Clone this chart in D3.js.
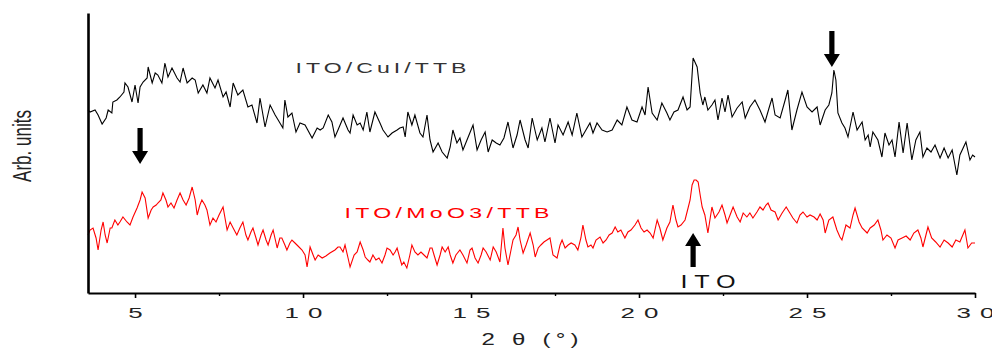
<!DOCTYPE html>
<html><head><meta charset="utf-8">
<script src="https://cdn.jsdelivr.net/npm/d3@7"></script>
<style>body{margin:0;background:#fff}svg{display:block}text{font-family:"Liberation Sans",Arial,sans-serif}</style>
</head><body><svg id="c" width="992" height="349"></svg>
<script>
// ---- data (2θ in degrees, intensity in arbitrary units) ----
const twoThetaCuI = [3.60,3.66,3.81,3.90,4.02,4.14,4.20,4.31,4.34,4.46,4.55,4.67,4.70,4.79,4.91,5.00,5.09,5.15,5.24,5.36,5.39,5.51,5.60,5.68,5.80,5.89,5.98,6.10,6.25,6.34,6.43,6.55,6.70,6.79,6.88,7.02,7.14,7.23,7.38,7.47,7.62,7.71,7.83,7.92,8.06,8.21,8.36,8.48,8.63,8.72,8.87,9.02,9.17,9.26,9.40,9.46,9.55,9.67,9.79,9.91,10.06,10.27,10.42,10.51,10.60,10.75,10.86,10.95,11.04,11.19,11.34,11.40,11.49,11.61,11.70,11.79,11.90,11.99,12.14,12.29,12.38,12.53,12.65,12.80,12.88,12.98,13.04,13.12,13.24,13.33,13.48,13.57,13.69,13.78,13.87,14.02,14.14,14.29,14.38,14.46,14.58,14.67,14.76,14.88,15.06,15.18,15.30,15.42,15.51,15.63,15.75,15.86,15.98,16.10,16.25,16.37,16.46,16.61,16.70,16.82,16.97,17.11,17.20,17.35,17.50,17.59,17.74,17.89,18.01,18.15,18.30,18.42,18.54,18.63,18.75,18.90,19.05,19.20,19.35,19.49,19.64,19.79,19.94,20.09,20.18,20.27,20.39,20.54,20.68,20.83,20.92,21.04,21.16,21.31,21.43,21.52,21.61,21.73,21.82,21.90,21.96,22.05,22.17,22.26,22.35,22.47,22.56,22.65,22.77,22.92,23.07,23.16,23.30,23.45,23.60,23.75,23.87,23.96,24.05,24.20,24.35,24.43,24.55,24.70,24.85,25.00,25.15,25.30,25.39,25.54,25.65,25.74,25.80,25.86,25.92,26.04,26.13,26.22,26.37,26.49,26.64,26.73,26.82,26.88,26.96,27.11,27.23,27.32,27.44,27.53,27.62,27.74,27.86,27.98,28.12,28.24,28.36,28.45,28.57,28.69,28.81,28.96,29.08,29.20,29.32,29.46,29.55,29.73,29.85,29.93,30.00];
const intensityCuI = [183,181,183,178,169,175,183,180,191,193,196,201,210,206,191,208,190,206,211,215,226,210,220,218,210,230,216,225,215,211,225,210,215,213,200,208,200,215,205,213,196,201,186,210,198,203,186,188,170,195,166,188,178,173,165,193,176,180,161,170,168,155,165,163,165,178,171,156,163,175,163,160,178,168,170,163,181,161,181,170,163,156,160,163,165,166,156,181,168,178,160,156,178,153,141,150,141,135,146,163,150,155,143,153,168,143,153,161,141,153,150,148,155,171,145,158,173,153,145,175,153,165,151,175,150,168,158,171,158,180,156,163,170,160,170,163,161,163,173,168,186,173,171,186,178,206,180,173,190,180,173,181,183,196,183,186,235,226,200,188,196,183,188,193,173,195,181,198,176,185,191,175,186,193,183,171,185,195,178,175,193,203,163,183,201,186,181,186,168,183,188,200,223,213,180,170,165,156,181,163,171,153,158,146,161,153,136,160,148,153,136,171,140,170,133,153,161,136,145,141,148,135,145,135,143,118,138,151,133,138,136];

const twoThetaMoO3 = [3.60,3.66,3.75,3.84,3.90,3.99,4.05,4.11,4.17,4.26,4.31,4.40,4.49,4.55,4.64,4.76,4.85,4.94,5.06,5.15,5.21,5.30,5.39,5.48,5.54,5.63,5.68,5.77,5.83,5.92,5.98,6.07,6.16,6.25,6.34,6.43,6.52,6.61,6.70,6.79,6.85,6.93,6.99,7.08,7.14,7.23,7.32,7.41,7.50,7.62,7.74,7.83,7.92,8.03,8.12,8.21,8.30,8.36,8.45,8.51,8.60,8.66,8.75,8.81,8.90,8.96,9.05,9.11,9.23,9.31,9.37,9.46,9.52,9.61,9.67,9.76,9.85,9.97,10.06,10.12,10.21,10.30,10.36,10.45,10.57,10.68,10.80,10.95,11.04,11.10,11.19,11.25,11.34,11.40,11.52,11.61,11.70,11.79,11.85,11.93,11.99,12.08,12.17,12.26,12.35,12.44,12.50,12.59,12.68,12.74,12.80,12.88,12.94,13.00,13.09,13.18,13.24,13.33,13.42,13.51,13.60,13.69,13.78,13.84,13.90,13.99,14.08,14.14,14.23,14.32,14.38,14.46,14.55,14.67,14.76,14.88,14.97,15.03,15.12,15.21,15.30,15.36,15.45,15.57,15.66,15.75,15.86,15.95,16.01,16.10,16.19,16.25,16.34,16.40,16.46,16.55,16.64,16.76,16.85,16.91,17.00,17.08,17.17,17.26,17.35,17.44,17.56,17.65,17.71,17.80,17.89,17.98,18.09,18.18,18.27,18.33,18.42,18.48,18.57,18.63,18.72,18.84,18.93,19.02,19.11,19.20,19.29,19.37,19.46,19.58,19.67,19.76,19.88,19.97,20.06,20.15,20.24,20.33,20.42,20.54,20.62,20.71,20.83,20.92,21.01,21.10,21.16,21.25,21.37,21.46,21.52,21.58,21.64,21.70,21.76,21.82,21.88,21.96,22.05,22.17,22.26,22.38,22.47,22.56,22.62,22.71,22.80,22.92,23.01,23.10,23.21,23.30,23.39,23.51,23.60,23.69,23.78,23.84,23.93,24.05,24.14,24.26,24.38,24.49,24.58,24.70,24.79,24.88,25.00,25.09,25.21,25.30,25.39,25.48,25.54,25.65,25.77,25.89,25.98,26.04,26.16,26.28,26.37,26.43,26.55,26.64,26.79,26.88,27.00,27.11,27.20,27.26,27.38,27.50,27.62,27.71,27.83,27.95,28.07,28.18,28.30,28.39,28.45,28.54,28.60,28.71,28.83,28.96,29.08,29.20,29.32,29.43,29.55,29.70,29.79,29.90,30.00];
const intensityMoO3 = [58,63,65,55,43,63,71,58,50,65,65,73,68,71,76,71,68,76,85,93,101,95,75,83,86,88,90,93,100,93,86,90,85,93,100,93,88,95,106,93,78,88,93,88,83,68,75,71,78,86,63,71,65,58,65,71,58,53,61,65,55,48,58,63,53,48,58,63,45,55,55,48,43,50,53,50,47,43,38,26,46,38,33,38,35,37,40,43,46,46,41,48,35,26,38,41,51,43,36,33,31,38,33,35,30,38,45,43,38,41,45,35,28,31,25,38,48,41,38,41,38,35,45,45,38,28,38,46,41,46,38,30,38,43,38,30,43,45,35,30,38,45,41,33,46,41,31,65,45,28,43,53,58,66,53,40,48,60,48,36,45,48,51,53,55,38,35,48,53,45,48,50,48,43,55,68,53,46,48,45,53,56,50,53,58,60,66,61,63,55,61,63,68,73,65,61,63,60,55,73,65,53,65,71,88,73,66,68,73,85,93,108,113,113,111,98,86,78,60,86,75,81,88,78,70,78,86,76,71,80,76,80,75,81,86,83,88,90,83,81,73,80,86,80,75,70,78,81,76,78,76,73,79,73,60,73,76,63,56,53,68,65,78,85,71,65,60,65,68,73,63,53,58,55,45,53,55,57,53,60,63,55,46,58,66,55,51,46,53,50,46,53,51,63,45,50,50];

const seriesNames = ["ITO/CuI/TTB", "ITO/MoO3/TTB"];
const xTicks = [5, 10, 15, 20, 25, 30];
const xMinorTicks = [7.5, 12.5, 17.5, 22.5, 27.5];
const xTitle = "2 θ (°)";
const yTitle = "Arb. units";
const arrowNote = "ITO";
// annotation arrows: position (2θ), tail and tip (intensity)
const arrowAt = [5.15, 25.74, 21.61];
const arrowFrom = [165, 262, 26];
const arrowTo = [129, 226, 60];

// ---- drawing ----
const svg = d3.select("#c");
svg.append("rect").attr("width", 992).attr("height", 349).attr("fill", "#fff");
const x = d3.scaleLinear().domain([3.6, 30]).range([88, 975]);
const y = d3.scaleLinear().domain([0, 280]).range([293, 13]);
const line = d3.line().x(d => x(d[0])).y(d => y(d[1]));

// stretched text helper (the original type is horizontally stretched)
function stretched(g, txt, cx, base, size, sx, width, fill) {
  const t = g.append("text")
    .attr("transform", `translate(${cx},${base}) scale(${sx},1)`)
    .attr("text-anchor", "middle")
    .attr("font-size", size)
    .attr("fill", fill)
    .text(txt);
  if (width) t.attr("textLength", width / sx).attr("lengthAdjust", "spacing");
  return t;
}

// curves
svg.append("path").datum(d3.zip(twoThetaCuI, intensityCuI))
  .attr("d", line).attr("fill", "none").attr("stroke", "#000").attr("stroke-width", 1.1);
svg.append("path").datum(d3.zip(twoThetaMoO3, intensityMoO3))
  .attr("d", line).attr("fill", "none").attr("stroke", "#ff0000").attr("stroke-width", 1.1);

// x axis
const gx = svg.append("g").attr("transform", "translate(0,293)")
  .call(d3.axisBottom(x).tickValues(xTicks).tickSize(5).tickSizeOuter(0).tickFormat(d => ""));
gx.select(".domain").attr("stroke", "#000").attr("stroke-width", 2.2);
gx.selectAll(".tick line").attr("stroke", "#000").attr("stroke-width", 1.6);
gx.selectAll(".tick").each(function(d) {
  const s = String(d);
  stretched(d3.select(this), s, 0, 25, 14, 1.85, s.length > 1 ? 38 : 0, "#222");
});
const gm = svg.append("g").attr("transform", "translate(0,293)")
  .call(d3.axisBottom(x).tickValues(xMinorTicks).tickSize(3).tickFormat(""));
gm.select(".domain").remove();
gm.selectAll(".tick line").attr("stroke", "#000").attr("stroke-width", 1.4);

// y axis
const gy = svg.append("g").attr("transform", "translate(88,0)")
  .call(d3.axisLeft(y).tickValues([]).tickSizeOuter(0));
gy.select(".domain").attr("stroke", "#000").attr("stroke-width", 2.6);

// titles
stretched(svg, xTitle, 530, 345, 16, 1.5, 97, "#222");
svg.append("text")
  .attr("transform", "translate(31,146) scale(1.5,1) rotate(-90)")
  .attr("text-anchor", "middle").attr("font-size", 17).attr("fill", "#222")
  .text(yTitle);

// series labels
stretched(svg, seriesNames[0], 381, 73, 14, 1.65, 171, "#333");
stretched(svg, seriesNames[1], 447, 218, 14, 1.65, 205, "#ff0000");
stretched(svg, arrowNote, 708, 288, 18, 1.4, 55, "#111");

// arrows
arrowAt.forEach((a, i) => {
  const ax = x(a), y0 = y(arrowFrom[i]), y1 = y(arrowTo[i]);
  const dir = Math.sign(y1 - y0);
  const head = 13, hw = 8, sw = 2.6;
  const yb = y1 - dir * head;
  const p = d3.path();
  p.moveTo(ax - sw, y0); p.lineTo(ax + sw, y0); p.lineTo(ax + sw, yb);
  p.lineTo(ax + hw, yb); p.lineTo(ax, y1); p.lineTo(ax - hw, yb);
  p.lineTo(ax - sw, yb); p.closePath();
  svg.append("path").attr("d", p.toString()).attr("fill", "#000");
});
</script></body></html>
